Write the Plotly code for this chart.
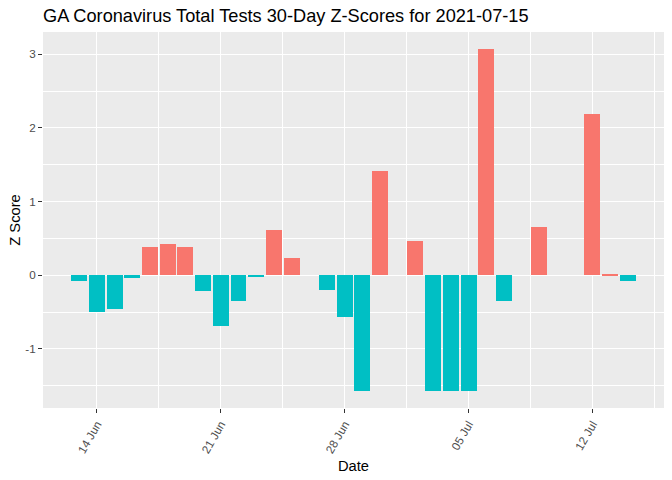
import pandas as pd
import plotly.graph_objects as go

# ---- data ----
dates = pd.date_range("2021-06-13", "2021-07-14", freq="D")
z_scores = [
    -0.08, -0.50, -0.46, -0.04, 0.38, 0.42, 0.38, -0.22, -0.69, -0.35,
    -0.03, 0.61, 0.23, None, -0.20, -0.57, -1.57, 1.42, None, 0.47,
    -1.57, -1.57, -1.57, 3.07, -0.35, None, 0.66, None, None, 2.19,
    0.01, -0.08,
]
y_tick_vals = [-1, 0, 1, 2, 3]
y_tick_text = ["-1", "0", "1", "2", "3"]
x_tick_dates = pd.to_datetime(["2021-06-14", "2021-06-21", "2021-06-28", "2021-07-05", "2021-07-12"])
x_tick_text = ["14 Jun", "21 Jun", "28 Jun", "05 Jul", "12 Jul"]
title_text = "GA Coronavirus Total Tests 30-Day Z-Scores for 2021-07-15"

POS = "#F8766D"
NEG = "#00BFC4"
colors = [POS if (v is not None and v > 0) else NEG for v in z_scores]

DAY = 86400000
fig = go.Figure(go.Bar(
    x=dates, y=z_scores, marker=dict(color=colors, line=dict(width=0)),
    width=0.9 * DAY, showlegend=False, hoverinfo="x+y",
))

# ggplot-like ranges (5% expansion)
lo = dates.min() - pd.Timedelta(hours=0.45 * 24)
hi = dates.max() + pd.Timedelta(hours=0.45 * 24)
span = hi - lo
xr = [lo - span * 0.05, hi + span * 0.05]
vals = [v for v in z_scores if v is not None]
ymin, ymax = min(min(vals), 0), max(max(vals), 0)
ys = ymax - ymin
yr = [ymin - 0.05 * ys, ymax + 0.05 * ys]

font = "Liberation Sans, Arial, sans-serif"
fig.update_layout(
    width=672, height=480,
    margin=dict(l=43, r=8, t=32, b=72, autoexpand=False),
    paper_bgcolor="white", plot_bgcolor="#EBEBEB",
    font=dict(family=font, color="black"),
    bargap=0,
    title=dict(text=title_text, x=43 / 672, xanchor="left", xref="container",
               y=1 - 16 / 480, yanchor="middle", yref="container",
               font=dict(size=18.2, color="black", family=font)),
)
fig.update_xaxes(
    range=xr, type="date", automargin=False,
    tickvals=x_tick_dates, ticktext=x_tick_text, tickangle=-60,
    tickfont=dict(size=11.7, color="#4D4D4D"),
    ticks="outside", ticklen=4, tickcolor="#333333", tickwidth=1.07,
    showgrid=True, gridcolor="white", gridwidth=1.07,
    minor=dict(showgrid=True, gridcolor="white", gridwidth=0.53,
               tick0="2021-06-17 12:00", dtick=7 * DAY),
    zeroline=False, showline=False,
    title=dict(text="Date", font=dict(size=14.7, color="black"), standoff=6),
)
fig.update_yaxes(
    range=yr, tickvals=y_tick_vals, ticktext=y_tick_text, automargin=False,
    tickfont=dict(size=11.7, color="#4D4D4D"),
    ticks="outside", ticklen=4, tickcolor="#333333", tickwidth=1.07,
    showgrid=True, gridcolor="white", gridwidth=1.07,
    minor=dict(showgrid=True, gridcolor="white", gridwidth=0.53, tick0=0.5, dtick=1),
    zeroline=False, showline=False,
    title=dict(text="Z Score", font=dict(size=14.7, color="black"), standoff=1),
)
fig.write_html("out.html", config={"displayModeBar": False},
               post_script="document.body.style.margin='0';")
